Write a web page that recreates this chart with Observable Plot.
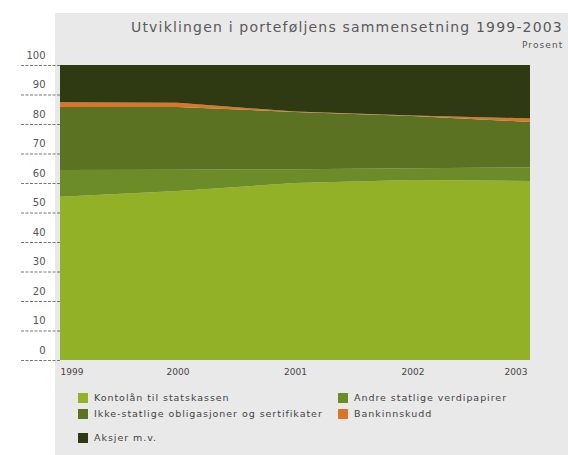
<!DOCTYPE html>
<html>
<head>
<meta charset="utf-8">
<script src="https://cdn.jsdelivr.net/npm/d3@7"></script>
<script src="https://cdn.jsdelivr.net/npm/@observablehq/plot@0.6"></script>
<style>
  html, body { margin: 0; padding: 0; background: #ffffff; }
  #wrap { position: relative; width: 568px; height: 455px; overflow: hidden; font-family: "DejaVu Sans", sans-serif; }
  #panel { position: absolute; left: 55px; top: 13px; right: 0; bottom: 0; background: #e9e9e9; }
  #title { position: absolute; left: 131px; top: 19px; white-space: nowrap; font-size: 14px; letter-spacing: 1.18px; color: #5a5a5a; }
  #unit { position: absolute; left: 522px; top: 40px; white-space: nowrap; font-size: 9px; letter-spacing: 1.1px; color: #555; }
  #chart { position: absolute; left: 0; top: 0; }
  .leg { position: absolute; white-space: nowrap; font-size: 9.5px; letter-spacing: 0.95px; color: #444; display: flex; align-items: center; }
  .sw { width: 10px; height: 10px; margin-right: 6px; display: inline-block; }
</style>
</head>
<body>
<div id="wrap">
  <div id="panel"></div>
  <div id="chart"></div>
  <div id="title"></div>
  <div id="unit"></div>
  <div id="legend"></div>
</div>
<script>
const titleText = "Utviklingen i porteføljens sammensetning 1999-2003";
const unitText = "Prosent";
const years = [1999, 2000, 2001, 2002, 2003];
const seriesNames = [
  "Kontolån til statskassen",
  "Andre statlige verdipapirer",
  "Ikke-statlige obligasjoner og sertifikater",
  "Bankinnskudd",
  "Aksjer m.v."
];
const kontolan      = [55.3, 57.3, 60.0, 61.0, 60.7];
const andreStatlige = [9.1, 7.2, 4.7, 4.0, 4.6];
const ikkeStatlige  = [21.4, 21.3, 19.4, 17.7, 15.4];
const bankinnskudd  = [1.6, 1.4, 0.1, 0.2, 1.2];
const aksjer        = [12.6, 12.8, 15.8, 17.1, 18.1];
const yTicks = [0, 10, 20, 30, 40, 50, 60, 70, 80, 90, 100];
const colors = ["#93b126", "#6c8c2a", "#5b7223", "#d9762a", "#2f3a12"];

const seriesValues = [kontolan, andreStatlige, ikkeStatlige, bankinnskudd, aksjer];
const data = [];
seriesNames.forEach((name, i) => {
  years.forEach((yr, j) => data.push({series: name, year: yr, value: seriesValues[i][j]}));
});

document.getElementById("title").textContent = titleText;
document.getElementById("unit").textContent = unitText;

const plot = Plot.plot({
  width: 568,
  height: 455,
  marginLeft: 60,
  marginRight: 38,
  marginTop: 65,
  marginBottom: 95,
  style: {background: "transparent", fontFamily: "DejaVu Sans, sans-serif", overflow: "visible"},
  x: {domain: [1999, 2003], axis: null},
  y: {domain: [0, 100], axis: null},
  color: {domain: seriesNames, range: colors},
  marks: [
    Plot.areaY(data, {x: "year", y: "value", z: "series", fill: "series", order: seriesNames}),
    Plot.axisY(yTicks, {tickSize: 40, text: null, label: null, stroke: "#777", strokeDasharray: "3,1.5"}),
    Plot.axisY(yTicks, {tickSize: 0, tickPadding: 15, label: null, dy: -10, fontSize: 10, fill: "#555", textAnchor: "end"}),
    Plot.text(years.slice(0, 1), {x: d => d, text: d => String(d), frameAnchor: "bottom", dy: 14, textAnchor: "start", fontSize: 9, fill: "#444"}),
    Plot.text(years.slice(1, -1), {x: d => d, text: d => String(d), frameAnchor: "bottom", dy: 14, textAnchor: "middle", fontSize: 9, fill: "#444"}),
    Plot.text(years.slice(-1), {x: d => d, text: d => String(d), frameAnchor: "bottom", dy: 14, textAnchor: "end", fontSize: 9, fill: "#444", dx: -3})
  ]
});
document.getElementById("chart").appendChild(plot);

// legend layout: [series index, left, top]
const legendPos = [[0, 78, 392], [1, 338, 392], [2, 78, 408], [3, 338, 408], [4, 78, 432]];
const legend = document.getElementById("legend");
legendPos.forEach(([i, left, top]) => {
  const item = document.createElement("div");
  item.className = "leg";
  item.style.left = left + "px";
  item.style.top = top + "px";
  const sw = document.createElement("span");
  sw.className = "sw";
  sw.style.background = colors[i];
  item.appendChild(sw);
  item.appendChild(document.createTextNode(seriesNames[i]));
  legend.appendChild(item);
});
</script>
</body>
</html>
